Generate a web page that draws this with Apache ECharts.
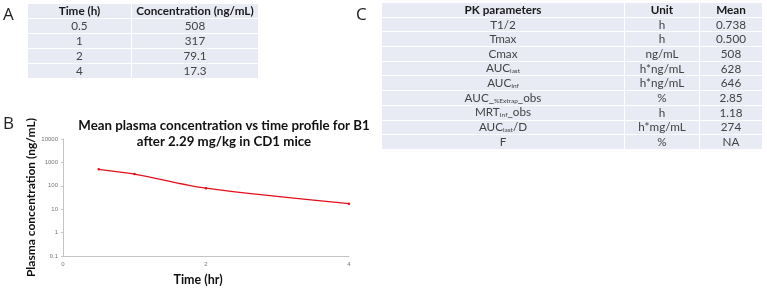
<!DOCTYPE html>
<html>
<head>
<meta charset="utf-8">
<script src="https://cdn.jsdelivr.net/npm/echarts@6/dist/echarts.min.js"></script>
<style>
  html, body { margin: 0; padding: 0; background: #fff; }
  #wrap { position: relative; width: 767px; height: 288px; overflow: hidden; font-family: Lato, 'Open Sans', sans-serif; }
  #chart { position: absolute; left: 0; top: 0; width: 767px; height: 288px; }
  .letter { position: absolute; font-family: 'Open Sans', sans-serif; font-size: 17px; color: #222; line-height: 1; }
  table.pk { position: absolute; border-collapse: collapse; font-size: 11.7px; color: #444; line-height: 1; }
  table.pk td { background: #e8eaf4; border: 1px solid #fff; text-align: center; padding: 0; }
  table.pk tr:first-child td { font-weight: bold; color: #1a1a1a; }
  table.pk sub { font-size: 6.5px; vertical-align: -1px; }
</style>
</head>
<body>
<div id="wrap">
  <div id="chart"></div>
  <div class="letter" style="left:3px;top:5px">A</div>
  <div class="letter" style="left:356px;top:5px">C</div>
  <table class="pk" id="tableA" style="left:27px;top:3px;width:232px"></table>
  <table class="pk" id="tableC" style="left:381px;top:2px;width:382px"></table>
</div>
<script>
// table A / line data
const timeH = [0.5, 1, 2, 4]
const concLabels = ['508', '317', '79.1', '17.3']
const concNgMl = [508, 317, 79.1, 17.3]

// table C: [name, subscript, suffix]
const pkNames = [
  ['T1/2', '', ''],
  ['Tmax', '', ''],
  ['Cmax', '', ''],
  ['AUC', 'last', ''],
  ['AUC', 'Inf', ''],
  ['AUC_', '%Extrap', '_obs'],
  ['MRT', 'Inf', '_obs'],
  ['AUC', 'last', '/D'],
  ['F', '', '']
]
const pkUnits = ['h', 'h', 'ng/mL', 'h*ng/mL', 'h*ng/mL', '%', 'h', 'h*mg/mL', '%']
const pkMeans = ['0.738', '0.500', '508', '628', '646', '2.85', '1.18', '274', 'NA']

const xTicks = [0, 2, 4]

function buildTables () {
  let a = '<tr style="height:15px"><td style="width:103px">Time (h)</td><td>Concentration (ng/mL)</td></tr>'
  timeH.forEach((t, i) => {
    a += '<tr style="height:15px"><td>' + t + '</td><td>' + concLabels[i] + '</td></tr>'
  })
  document.getElementById('tableA').innerHTML = a

  let c = '<tr style="height:14.7px"><td style="width:242px">PK parameters</td><td style="width:74px">Unit</td><td>Mean</td></tr>'
  pkNames.forEach((n, i) => {
    let name = n[0] + (n[1] ? '<sub>' + n[1] + '</sub>' : '') + n[2]
    c += '<tr style="height:14.7px"><td>' + name + '</td><td>' + pkUnits[i] + '</td><td>' + pkMeans[i] + '</td></tr>'
  })
  document.getElementById('tableC').innerHTML = c
}
buildTables()

const myChart = echarts.init(document.getElementById('chart'))
const option = {
  backgroundColor: 'transparent',
  animation: false,
  title: {
    text: 'Mean plasma concentration vs time profile for B1\nafter 2.29 mg/kg in CD1 mice',
    left: 219,
    top: 113,
    textAlign: 'center',
    textStyle: {
      fontFamily: 'Lato',
      fontWeight: 'bold',
      fontSize: 13.3,
      lineHeight: 16,
      color: '#111'
    }
  },
  graphic: [{
    type: 'text',
    left: 3,
    top: 116,
    style: { text: 'B', font: '17px "Open Sans"', fill: '#222' }
  }],
  grid: {
    left: 63,
    right: 418,
    top: 139,
    bottom: 32
  },
  xAxis: {
    type: 'value',
    min: 0,
    max: 4,
    interval: 2,
    name: 'Time (hr)',
    nameLocation: 'middle',
    nameGap: 17,
    nameTextStyle: {
      fontFamily: 'Lato',
      fontWeight: 'bold',
      fontSize: 12.5,
      color: '#111',
      padding: [0, 16, 0, 0]
    },
    splitLine: { show: false },
    axisLine: { lineStyle: { color: '#c4c4c4', width: 1 } },
    axisTick: { show: false },
    axisLabel: {
      fontSize: 6,
      color: '#777',
      margin: 5,
      formatter: v => (xTicks.indexOf(v) >= 0 ? String(v) : '')
    }
  },
  yAxis: {
    type: 'log',
    logBase: 10,
    min: 0.1,
    max: 10000,
    name: 'Plasma concentration (ng/mL)',
    nameLocation: 'middle',
    nameGap: 25,
    nameTextStyle: {
      fontFamily: 'Lato',
      fontWeight: 'bold',
      fontSize: 12,
      color: '#111'
    },
    splitLine: { show: false },
    axisLine: { show: true, lineStyle: { color: '#c4c4c4', width: 1 } },
    axisTick: { show: true, length: 2, lineStyle: { color: '#c4c4c4' } },
    axisLabel: {
      fontSize: 6,
      color: '#777',
      margin: 5,
      formatter: v => String(v)
    }
  },
  series: [{
    type: 'line',
    data: timeH.map((t, i) => [t, concNgMl[i]]),
    smooth: 0.3,
    symbol: 'circle',
    symbolSize: 2.5,
    itemStyle: { color: '#e3101c' },
    lineStyle: { color: '#e3101c', width: 1.3 }
  }]
}
myChart.setOption(option)
</script>
</body>
</html>
